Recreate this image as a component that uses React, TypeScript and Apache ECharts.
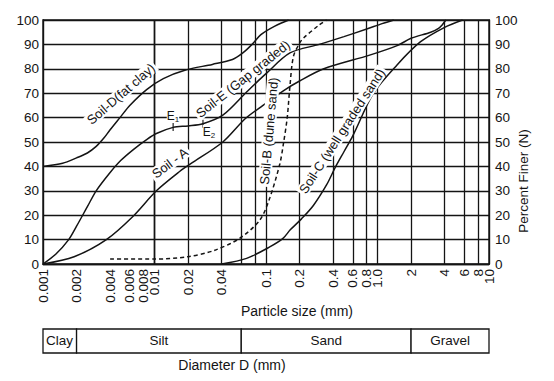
import React, { useEffect, useRef } from "react";
import * as echarts from "echarts";

const FONT = "'Liberation Sans', Arial, Helvetica, sans-serif";
const INK = "#141414";

const xTickValues = [0.001, 0.002, 0.004, 0.006, 0.008, 0.01, 0.02, 0.04, 0.1, 0.2, 0.4, 0.6, 0.8, 1, 2, 4, 6, 8, 10];
const xTickLabels = ["0.001", "0.002", "0.004", "0.006", "0.008", "0.01", "0.02", "0.04", "0.1", "0.2", "0.4", "0.6", "0.8", "1.0", "2", "4", "6", "8", "10"];
const xGridValues = [0.002, 0.004, 0.006, 0.008, 0.01, 0.02, 0.04, 0.06, 0.08, 0.1, 0.2, 0.4, 0.6, 0.8, 1, 2, 4, 6, 8];

const soilD = [
  [0.001, 40], [0.0015, 41.3], [0.002, 43.5], [0.0025, 45.5], [0.003, 48.2], [0.0035, 51.5],
  [0.004, 55], [0.005, 60.5], [0.006, 65], [0.0085, 71.5], [0.012, 76], [0.019, 79.5],
  [0.033, 81.8], [0.05, 83.8], [0.062, 86.5], [0.075, 90], [0.09, 94], [0.12, 97.5], [0.16, 100],
];
const soilE = [
  [0.001, 0], [0.0013, 4], [0.0017, 10], [0.002, 15.5], [0.0025, 23.5], [0.003, 30],
  [0.004, 37.5], [0.005, 42.5], [0.0065, 47], [0.0085, 51], [0.0104, 53.5], [0.0147, 56],
  [0.02, 56.6], [0.0272, 57.5], [0.041, 61], [0.067, 70.5], [0.1, 78], [0.164, 86.5],
  [0.3, 90], [0.5, 93.2], [0.8, 96.3], [1.1, 98.5], [1.4, 100],
];
const soilA = [
  [0.001, 0], [0.0019, 3], [0.0037, 10], [0.0064, 19.5], [0.0104, 30], [0.0169, 38],
  [0.021, 41], [0.041, 50], [0.065, 59.5], [0.094, 65], [0.143, 71], [0.2, 75], [0.33, 80],
  [0.85, 85.6], [1.5, 89.5], [2, 92.5], [3, 95], [3.5, 96.5], [3.8, 98], [4.1, 100],
];
const soilB = [
  [0.004, 2], [0.01, 2], [0.02, 3], [0.034, 5.5], [0.058, 10.5], [0.088, 18], [0.108, 27],
  [0.133, 41], [0.143, 49], [0.155, 60], [0.164, 73], [0.176, 85], [0.2, 90.5], [0.216, 92.5],
  [0.3, 98], [0.35, 100],
];
const soilC = [
  [0.04, 0], [0.067, 2.3], [0.108, 7], [0.142, 10.5], [0.165, 14], [0.208, 18.5], [0.266, 24],
  [0.35, 32.5], [0.417, 39.5], [0.5, 46], [0.6, 52.5], [0.92, 70], [1.49, 81.5], [2.42, 91],
  [4, 97], [5.8, 100],
];
const eMarks = [[0.0147, 56.1], [0.0272, 57.5]];

const classNames = ["Clay", "Silt", "Sand", "Gravel"];
const classBounds = [0.001, 0.002, 0.06, 2, 10];

function curve(name: string, data: number[][], dashed = false) {
  return {
    name,
    type: "line",
    data,
    showSymbol: false,
    smooth: 0.3,
    z: 5,
    lineStyle: { color: INK, width: 1.5, type: dashed ? [4, 3] : "solid" },
  };
}

export default function App() {
  const ref = useRef<HTMLDivElement>(null);
  useEffect(() => {
    document.body.style.margin = "0";
    const chart = echarts.init(ref.current!, null, { renderer: "svg" });
    const option: any = {
      animation: false,
      backgroundColor: "#fff",
      textStyle: { fontFamily: FONT },
      grid: { left: 43, right: 65, top: 20, bottom: 117, show: true, borderColor: INK, borderWidth: 1.4 },
      xAxis: {
        type: "log",
        logBase: 10,
        min: 0.001,
        max: 10,
        axisLabel: { show: false },
        axisTick: { show: false },
        splitLine: { show: false },
        axisLine: { show: true, lineStyle: { color: INK, width: 1.4 } },
      },
      yAxis: [
        {
          type: "value",
          min: 0,
          max: 100,
          interval: 10,
          axisLine: { show: true, lineStyle: { color: INK, width: 1.4 } },
          axisTick: { show: false },
          axisLabel: { color: INK, fontSize: 13.5, margin: 4, fontFamily: FONT },
          splitLine: { show: true, lineStyle: { color: INK, width: 1.3 } },
        },
        {
          type: "value",
          position: "right",
          min: 0,
          max: 100,
          interval: 10,
          axisLine: { show: true, lineStyle: { color: INK, width: 1.4 } },
          axisTick: { show: false },
          axisLabel: { color: INK, fontSize: 13.5, margin: 6, fontFamily: FONT },
          splitLine: { show: false },
        },
      ],
      series: [
        {
          type: "line",
          data: [[0.001, 0]],
          showSymbol: false,
          lineStyle: { opacity: 0 },
          z: 1,
          markLine: {
            silent: true,
            symbol: ["none", "none"],
            label: { show: false },
            lineStyle: { color: INK, width: 1.3, type: "solid" },
            data: xGridValues.map((v) => ({ xAxis: v })),
          },
        },
        curve("Soil-D", soilD),
        curve("Soil-E", soilE),
        curve("Soil-A", soilA),
        curve("Soil-B", soilB, true),
        curve("Soil-C", soilC),
        {
          type: "scatter",
          data: eMarks,
          symbol: "rect",
          symbolSize: [1.4, 8],
          itemStyle: { color: INK },
          z: 6,
        },
      ],
    };
    chart.setOption(option);

    const px = (x: number, y: number) => chart.convertToPixel({ gridIndex: 0 }, [x, y]) as number[];
    const g: any[] = [];
    const deg = (d: number) => (d * Math.PI) / 180;

    xTickValues.forEach((v, i) => {
      const p = px(v, 0);
      g.push({
        type: "text",
        x: p[0],
        y: 269,
        rotation: deg(90),
        z: 10,
        style: { text: xTickLabels[i], font: `13.5px ${FONT}`, fill: INK, align: "right", verticalAlign: "middle" },
      });
    });

    const lbl = (text: string, x: number, y: number, rot: number, size = 13) => ({
      type: "text",
      x,
      y,
      rotation: deg(rot),
      z: 20,
      style: {
        text,
        font: `${size}px ${FONT}`,
        fill: INK,
        align: "center",
        verticalAlign: "middle",
        backgroundColor: "#fff",
        padding: [0, 2],
      },
    });
    g.push(lbl("Soil-D(fat clay)", 121, 94, 41));
    g.push(lbl("Soil-E (Gap graded)", 243, 79, 38.5));
    g.push(lbl("Soil - A", 170, 163, 37));
    g.push(lbl("Soil-B (dune sand)", 269, 131, 85));
    g.push(lbl("Soil-C (well graded sand)", 342, 131, 57));

    const eLbl = (sub: string, x: number, y: number) => ({
      type: "text",
      x,
      y,
      z: 20,
      style: {
        text: `E{s|${sub}}`,
        font: `12px ${FONT}`,
        fill: INK,
        align: "center",
        verticalAlign: "middle",
        backgroundColor: "#fff",
        rich: { s: { fontSize: 8, fontFamily: FONT, fill: INK, verticalAlign: "bottom", padding: [6, 0, 0, 0] } },
      },
    });
    g.push(eLbl("1", 173, 116));
    g.push(eLbl("2", 209, 132));

    g.push({
      type: "text",
      x: 523,
      y: 181,
      rotation: deg(90),
      z: 10,
      style: { text: "Percent Finer (N)", font: `13.5px ${FONT}`, fill: INK, align: "center", verticalAlign: "middle" },
    });
    g.push({
      type: "text",
      x: 297,
      y: 311,
      z: 10,
      style: { text: "Particle size (mm)", font: `14px ${FONT}`, fill: INK, align: "center", verticalAlign: "middle" },
    });

    const top = 329;
    const bottom = 353;
    classNames.forEach((name, i) => {
      const x0 = px(classBounds[i], 0)[0];
      const x1 = px(classBounds[i + 1], 0)[0];
      g.push({
        type: "rect",
        z: 10,
        shape: { x: x0, y: top, width: x1 - x0, height: bottom - top },
        style: { fill: "#fff", stroke: INK, lineWidth: 1.3 },
      });
      g.push({
        type: "text",
        z: 11,
        x: name === "Clay" ? x0 + 3 : (x0 + x1) / 2,
        y: (top + bottom) / 2 - 1,
        style: {
          text: name,
          font: `13.5px ${FONT}`,
          fill: INK,
          align: name === "Clay" ? "left" : "center",
          verticalAlign: "middle",
        },
      });
    });
    g.push({
      type: "text",
      x: 232,
      y: 365,
      z: 10,
      style: { text: "Diameter D (mm)", font: `14px ${FONT}`, fill: INK, align: "center", verticalAlign: "middle" },
    });

    chart.setOption({ graphic: g });
    return () => chart.dispose();
  }, []);
  return <div ref={ref} style={{ position: "absolute", left: 0, top: 0, width: 554, height: 381 }} />;
}
